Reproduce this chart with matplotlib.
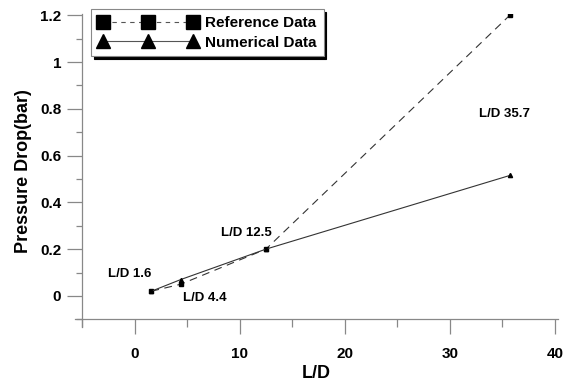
import matplotlib
matplotlib.use("Agg")
import matplotlib.pyplot as plt
from matplotlib.lines import Line2D
from matplotlib.ticker import MultipleLocator

plt.rcParams["font.family"] = ["Liberation Sans", "DejaVu Sans"]
plt.rcParams["font.weight"] = "bold"

# data
ld = [1.6, 4.4, 12.5, 35.7]
ref_drop = [0.02, 0.05, 0.2, 1.2]
num_drop = [0.02, 0.07, 0.2, 0.515]
point_labels = ["L/D 1.6", "L/D 4.4", "L/D 12.5", "L/D 35.7"]
label_pos = [(-2.5, 0.095), (4.6, -0.01), (8.2, 0.27), (32.8, 0.78)]

fig = plt.figure(figsize=(5.7, 3.83), dpi=100)
ax = fig.add_axes([0.131, 0.145, 0.848, 0.818])

ax.plot(ld, ref_drop, color="#333333", lw=0.8, ls=(0, (7, 5)),
        marker="s", ms=3, mfc="k", mec="k")
ax.plot(ld, num_drop, color="#333333", lw=0.8, ls="-",
        marker="^", ms=3, mfc="k", mec="k")

for txt, (x, y) in zip(point_labels, label_pos):
    ax.text(x, y, txt, fontsize=9.5, fontweight="bold", va="center", ha="left")

ax.set_xlim(-5.7, 40.3)
ax.set_ylim(-0.135, 1.205)
ax.spines["left"].set_position(("data", -5))
ax.spines["bottom"].set_position(("data", -0.1))
ax.spines["top"].set_visible(False)
ax.spines["right"].set_visible(False)
for s in ["left", "bottom"]:
    ax.spines[s].set_color("#888888")
    ax.spines[s].set_linewidth(0.9)

ax.set_xticks([0, 10, 20, 30, 40])
ax.xaxis.set_minor_locator(MultipleLocator(5))
ax.set_yticks([0, 0.2, 0.4, 0.6, 0.8, 1.0, 1.2])
ax.set_yticklabels(["0", "0.2", "0.4", "0.6", "0.8", "1", "1.2"])
ax.yaxis.set_minor_locator(MultipleLocator(0.1))
ax.tick_params(axis="both", which="major", direction="out", length=11,
               width=0.9, color="#888888", labelsize=11)
ax.tick_params(axis="x", which="major", pad=9)
ax.tick_params(axis="y", which="major", pad=4)
ax.tick_params(axis="x", which="minor", direction="out", length=6,
               width=0.9, color="#888888")
ax.tick_params(axis="y", which="minor", direction="out", length=4.5,
               width=0.9, color="#888888")

ax.set_xlabel("L/D", fontsize=13, fontweight="bold", labelpad=3)
ax.set_ylabel("Pressure Drop(bar)", fontsize=13, fontweight="bold", labelpad=6)

handles = [
    Line2D([], [], color="#555555", lw=0.8, ls=(0, (4, 4)), marker="s", ms=10,
           mfc="k", mec="k"),
    Line2D([], [], color="#555555", lw=0.8, ls="-", marker="^", ms=10,
           mfc="k", mec="k"),
]
leg = ax.legend(handles, ["Reference Data", "Numerical Data"], loc="upper left",
                bbox_to_anchor=(0.025, 1.03), numpoints=3, handlelength=6.5,
                fancybox=False, framealpha=1, edgecolor="#888888",
                shadow={"color": "k", "alpha": 1}, prop={"weight": "bold", "size": 11},
                borderpad=0.45, labelspacing=0.35, handletextpad=0.5,
                borderaxespad=0.3)
leg.get_frame().set_linewidth(0.8)

fig.savefig("out.png", dpi=100)
